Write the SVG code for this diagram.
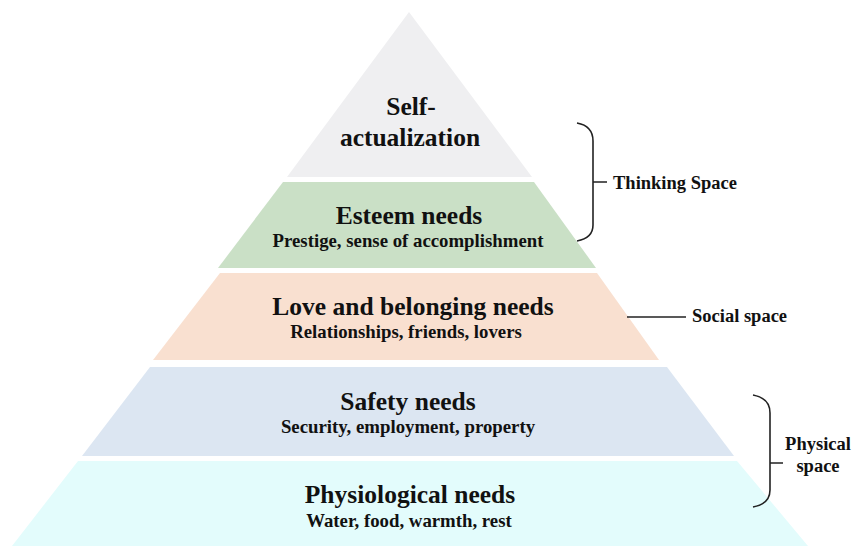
<svg xmlns="http://www.w3.org/2000/svg" width="853" height="546" viewBox="0 0 853 546">
<style>
.t{font-family:"Liberation Serif","Times New Roman",serif;font-weight:bold;fill:#111;text-anchor:middle}
.h{font-size:25.5px}
.s{font-size:18.8px}
.l{font-family:"Liberation Serif","Times New Roman",serif;font-weight:bold;fill:#111;font-size:18.5px}
.br{fill:none;stroke:#222;stroke-width:1.6}
</style>
<rect width="853" height="546" fill="#ffffff"/>
<g id="self-actualization">
<polygon points="409,12 532,177 287,177" fill="#efeff1"/>
<text class="t h" x="411" y="115">Self-</text>
<text class="t h" x="410" y="146">actualization</text>
</g>
<g id="esteem">
<polygon points="283,182 534,182 596,268 218,268" fill="#cae0c6"/>
<text class="t h" x="409" y="224">Esteem needs</text>
<text class="t s" x="408" y="247">Prestige, sense of accomplishment</text>
</g>
<g id="love">
<polygon points="220,273 597,273 659,360 153,360" fill="#f9e0d0"/>
<text class="t h" x="413" y="315">Love and belonging needs</text>
<text class="t s" x="406" y="338">Relationships, friends, lovers</text>
</g>
<g id="safety">
<polygon points="150,367 667,367 734,456 82,456" fill="#dce6f2"/>
<text class="t h" x="408" y="410">Safety needs</text>
<text class="t s" x="408" y="433">Security, employment, property</text>
</g>
<g id="physiological">
<polygon points="78,461 737,461 808,546 12,546" fill="#e3fcfc"/>
<text class="t h" x="410" y="503">Physiological needs</text>
<text class="t s" x="409" y="527">Water, food, warmth, rest</text>
</g>
<g id="connectors">
<path class="br" d="M577,123 C588,125 593,131 593,141 L593,225 C593,234 588,239 577,241 M593,182 L607,182"/>
<path class="br" d="M627,317 L686,317"/>
<path class="br" d="M753,395 C764,397 770,403 770,413 L770,490 C770,499 764,505 753,507 M770,463 L783,463"/>
</g>
<g id="labels">
<text class="l" x="613" y="189">Thinking Space</text>
<text class="l" x="692" y="322">Social space</text>
<text class="l" x="818" y="450" text-anchor="middle" font-size="17.5">Physical</text>
<text class="l" x="818" y="472" text-anchor="middle" font-size="17.5">space</text>
</g>
</svg>
